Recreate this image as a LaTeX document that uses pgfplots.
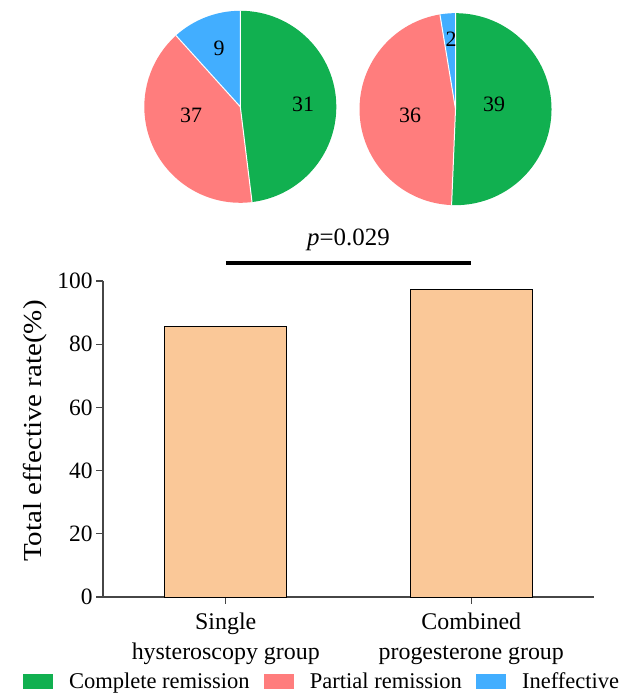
\documentclass[border=0pt]{standalone}
\usepackage{fontspec}
\setmainfont{Liberation Serif}
\usepackage{pgfplots}
\pgfplotsset{compat=1.18}

\definecolor{cgreen}{RGB}{17,176,80}
\definecolor{cred}{RGB}{255,125,125}
\definecolor{cblue}{RGB}{66,174,255}
\definecolor{cbar}{RGB}{250,200,152}
\definecolor{caxis}{RGB}{70,70,70}

\begin{document}
\begin{tikzpicture}[x=1bp,y=1bp]
\useasboundingbox (0,0) rectangle (632,694);

% slice sizes as drawn (green, red, blue), clockwise from 12 o'clock
\pgfmathsetmacro\Ltot{37+31+9}
\pgfmathsetmacro\LgEnd{90-360*37/\Ltot}
\pgfmathsetmacro\LrEnd{\LgEnd-360*31/\Ltot}
\pgfmathsetmacro\Rtot{39+36+2}
\pgfmathsetmacro\RgEnd{90-360*39/\Rtot}
\pgfmathsetmacro\RrEnd{\RgEnd-360*36/\Rtot}

% pies
\begin{axis}[at={(0bp,0bp)}, anchor=south west, scale only axis,
  width=632bp, height=694bp, xmin=0, xmax=632, ymin=0, ymax=694,
  hide axis, clip=false]
  \fill[cgreen] (axis cs:240.3,587.2) -- ++(90:96bp) arc[start angle=90, end angle=\LgEnd, radius=96bp] -- cycle;
  \fill[cred] (axis cs:240.3,587.2) -- ++(\LgEnd:96bp) arc[start angle=\LgEnd, end angle=\LrEnd, radius=96bp] -- cycle;
  \fill[cblue] (axis cs:240.3,587.2) -- ++(\LrEnd:96bp) arc[start angle=\LrEnd, end angle=-270, radius=96bp] -- cycle;
  \draw[white, line width=1bp] (axis cs:240.3,587.2) -- ++(90:96bp)
    (axis cs:240.3,587.2) -- ++(\LgEnd:96bp) (axis cs:240.3,587.2) -- ++(\LrEnd:96bp);
  \fill[cgreen] (axis cs:455.5,584.8) -- ++(90:96bp) arc[start angle=90, end angle=\RgEnd, radius=96bp] -- cycle;
  \fill[cred] (axis cs:455.5,584.8) -- ++(\RgEnd:96bp) arc[start angle=\RgEnd, end angle=\RrEnd, radius=96bp] -- cycle;
  \fill[cblue] (axis cs:455.5,584.8) -- ++(\RrEnd:96bp) arc[start angle=\RrEnd, end angle=-270, radius=96bp] -- cycle;
  \draw[white, line width=1bp] (axis cs:455.5,584.8) -- ++(90:96bp)
    (axis cs:455.5,584.8) -- ++(\RgEnd:96bp) (axis cs:455.5,584.8) -- ++(\RrEnd:96bp);
  \begin{scope}[every node/.style={font=\fontsize{22}{26}\selectfont, inner sep=0pt}]
    \node at (axis cs:219,646) {9};
    \node at (axis cs:303,590) {31};
    \node at (axis cs:191,579) {37};
    \node at (axis cs:451,655) {2};
    \node at (axis cs:494,590) {39};
    \node at (axis cs:410,579) {36};
  \end{scope}
\end{axis}

% bars
\begin{axis}[at={(103bp,97bp)}, anchor=south west, scale only axis,
  width=491bp, height=316bp,
  xmin=-0.5, xmax=1.5, ymin=0, ymax=100,
  axis x line*=bottom, axis y line*=left,
  axis line style={caxis, line width=1.2bp},
  tick align=outside, major tick length=7bp,
  tick style={caxis, line width=1.2bp},
  ytick={0,20,...,100},
  xtick={0,1},
  xticklabels={Single\\hysteroscopy group, Combined\\progesterone group},
  x tick label style={align=center, yshift=-5bp, font=\fontsize{24}{31}\selectfont},
  y tick label style={font=\fontsize{23.5}{27}\selectfont},
  /pgf/number format/assume math mode=true,
  ylabel={Total effective rate(\%)},
  ylabel style={font=\fontsize{26}{30}\selectfont, at={(axis description cs:-0.138,0.525)}, anchor=center, xscale=1.12},
  clip=false,
  legend columns=3,
  legend style={draw=none, fill=none, at={(axis description cs:0.446,-0.266)}, anchor=center,
    font=\fontsize{22.6}{26}\selectfont,
    /tikz/every even column/.append style={column sep=12bp}},
]
\addplot[ybar, bar width=122bp, bar shift=0bp, fill=cbar, draw=black, line width=0.8bp, forget plot]
  coordinates {(0,85.7) (1,97.4)};
\draw[black, line width=3.5bp] (axis cs:0,105.7) -- (axis cs:1,105.7);
\node[font=\fontsize{25}{29}\selectfont] at (axis cs:0.5,113) {\textit{p}=0.029};
\addlegendimage{legend image code/.code={\fill[cgreen] (0bp,-7bp) rectangle (29bp,7bp); \path[draw=none, fill=none] (29bp,0bp) -- (44bp,0bp);}}
\addlegendentry{Complete remission}
\addlegendimage{legend image code/.code={\fill[cred] (0bp,-7bp) rectangle (29bp,7bp); \path[draw=none, fill=none] (29bp,0bp) -- (44bp,0bp);}}
\addlegendentry{Partial remission}
\addlegendimage{legend image code/.code={\fill[cblue] (0bp,-7bp) rectangle (29bp,7bp); \path[draw=none, fill=none] (29bp,0bp) -- (44bp,0bp);}}
\addlegendentry{Ineffective}
\end{axis}
\end{tikzpicture}
\end{document}
